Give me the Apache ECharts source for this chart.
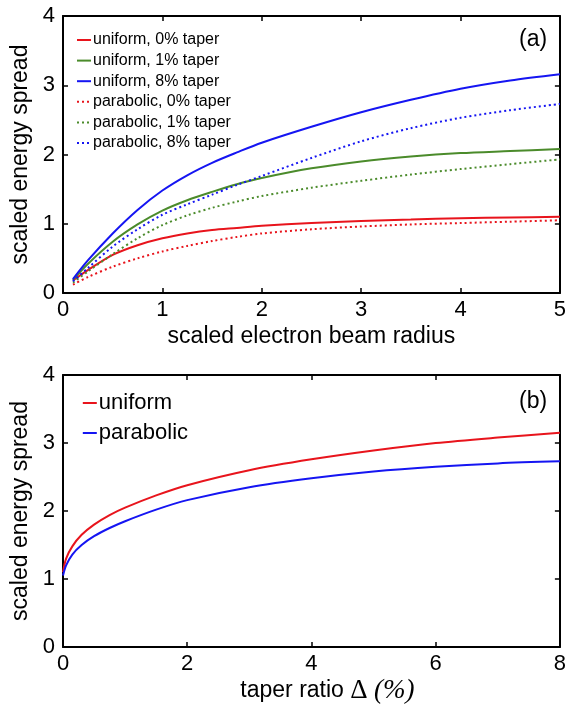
<!DOCTYPE html>
<html>
<head>
<meta charset="utf-8">
<script src="https://cdn.jsdelivr.net/npm/echarts@6/dist/echarts.min.js"></script>
<style>
html,body{margin:0;padding:0;background:#fff;}
#chart{width:569px;height:705px;}
</style>
</head>
<body>
<div id="chart"></div>
<script>
// ---- Panel (a) data ----
const radius = [0.1, 0.25, 0.5, 0.75, 1, 1.25, 1.5, 1.75, 2, 2.5, 3, 3.5, 4, 4.5, 5];
const uniform0   = [0.18, 0.33, 0.55, 0.69, 0.79, 0.86, 0.91, 0.94, 0.97, 1.01, 1.04, 1.06, 1.08, 1.09, 1.10];
const uniform1   = [0.19, 0.42, 0.74, 0.99, 1.19, 1.34, 1.46, 1.57, 1.66, 1.80, 1.90, 1.97, 2.02, 2.05, 2.08];
const uniform8   = [0.20, 0.47, 0.86, 1.20, 1.48, 1.70, 1.88, 2.03, 2.17, 2.40, 2.61, 2.79, 2.95, 3.07, 3.16];
const parabolic0 = [0.12, 0.23, 0.38, 0.50, 0.60, 0.68, 0.75, 0.81, 0.86, 0.92, 0.96, 0.99, 1.01, 1.03, 1.05];
const parabolic1 = [0.15, 0.31, 0.56, 0.79, 0.98, 1.12, 1.23, 1.32, 1.40, 1.52, 1.62, 1.71, 1.79, 1.86, 1.93];
const parabolic8 = [0.17, 0.36, 0.67, 0.92, 1.13, 1.28, 1.42, 1.56, 1.69, 1.95, 2.19, 2.38, 2.53, 2.64, 2.73];
const seriesNamesA = ['uniform, 0% taper', 'uniform, 1% taper', 'uniform, 8% taper',
                      'parabolic, 0% taper', 'parabolic, 1% taper', 'parabolic, 8% taper'];
const xTicksA = [0, 1, 2, 3, 4, 5];
const yTicks = [0, 1, 2, 3, 4];

// ---- Panel (b) data ----
const taper = [0, 0.05, 0.15, 0.3, 0.5, 0.75, 1, 1.5, 2, 3, 4, 5, 6, 7, 8];
const uniformB   = [1.10, 1.30, 1.48, 1.65, 1.80, 1.94, 2.05, 2.23, 2.38, 2.60, 2.76, 2.89, 3.00, 3.08, 3.15];
const parabolicB = [1.05, 1.20, 1.36, 1.50, 1.63, 1.75, 1.85, 2.02, 2.16, 2.35, 2.48, 2.58, 2.65, 2.70, 2.73];
const seriesNamesB = ['uniform', 'parabolic'];
const xTicksB = [0, 2, 4, 6, 8];

const RED = '#e8141c', GREEN = '#4b8b2b', BLUE = '#1515f2';
const FONT = 'Liberation Sans, Arial, Helvetica, sans-serif';
const DOT = [2, 3];

function pairs(xs, ys) { return xs.map((x, i) => [x, ys[i]]); }

const chart = echarts.init(document.getElementById('chart'), null, {renderer: 'canvas'});

const axisLine = {show: true, onZero: false, lineStyle: {color: '#000', width: 2}};
const axisTick = {show: true, inside: true, length: 5, lineStyle: {color: '#000', width: 1.5}};

function xAx(gridIndex, min, max, interval, position, showLabel, name, nameExtra) {
  return Object.assign({
    type: 'value', gridIndex, min, max, interval, position,
    axisLine, axisTick, splitLine: {show: false},
    axisLabel: {show: showLabel, color: '#000', fontFamily: FONT, fontSize: 22, margin: 6},
    name: name || '', nameLocation: 'middle', nameGap: 32,
    nameTextStyle: {color: '#000', fontFamily: FONT, fontSize: 23}
  }, nameExtra || {});
}
function yAx(gridIndex, position, showLabel, name) {
  return {
    type: 'value', gridIndex, min: 0, max: 4, interval: 1, position,
    axisLine, axisTick, splitLine: {show: false},
    axisLabel: {show: showLabel, color: '#000', fontFamily: FONT, fontSize: 22, margin: 8},
    name: name || '', nameLocation: 'middle', nameGap: 27,
    nameTextStyle: {color: '#000', fontFamily: FONT, fontSize: 23}
  };
}

function lineSeries(name, data, color, dotted, xi, yi) {
  return {
    name, type: 'line', data, xAxisIndex: xi, yAxisIndex: yi,
    smooth: 0.3, symbol: 'none', showSymbol: false,
    lineStyle: {color, width: 2, type: dotted ? DOT : 'solid'},
    itemStyle: {color}, z: 3, silent: true
  };
}

const legendItemStyle = {opacity: 0, color: 'rgba(0,0,0,0)', borderWidth: 0};

const option = {
  backgroundColor: '#fff',
  animation: false,
  grid: [
    {left: 63, top: 16, width: 498, height: 277},
    {left: 63, top: 375, width: 498, height: 274}
  ],
  xAxis: [
    xAx(0, 0, 5, 1, 'bottom', true, 'scaled electron beam radius'),
    xAx(0, 0, 5, 1, 'top', false, ''),
    xAx(1, 0, 8, 2, 'bottom', true, 'taper ratio {d|Δ} {p|(%)}', {
      nameGap: 30,
      nameTextStyle: {color: '#000', fontFamily: FONT, fontSize: 23, padding: [0, 0, 0, 32],
        rich: {d: {fontFamily: 'Liberation Serif, DejaVu Serif, serif', fontSize: 27, color: '#000'},
               p: {fontFamily: 'Liberation Serif, DejaVu Serif, serif', fontStyle: 'italic', fontSize: 27, color: '#000'}}}
    }),
    xAx(1, 0, 8, 2, 'top', false, '')
  ],
  yAxis: [
    yAx(0, 'left', true, 'scaled energy spread'),
    yAx(0, 'right', false, ''),
    yAx(1, 'left', true, 'scaled energy spread'),
    yAx(1, 'right', false, '')
  ],
  legend: [
    {
      data: seriesNamesA, orient: 'vertical', left: 76, top: 32,
      itemWidth: 14, itemHeight: 16, itemGap: 4.6, padding: 0,
      itemStyle: legendItemStyle,
      textStyle: {color: '#000', fontFamily: FONT, fontSize: 16, padding: [0, 0, 0, -3]},
      selectedMode: false
    },
    {
      data: seriesNamesB, orient: 'vertical', left: 81, top: 392,
      itemWidth: 14, itemHeight: 22, itemGap: 8, padding: 0,
      itemStyle: legendItemStyle,
      textStyle: {color: '#000', fontFamily: FONT, fontSize: 22, padding: [0, 0, 0, -3]},
      selectedMode: false
    }
  ],
  graphic: [
    {type: 'text', left: 519, top: 28, style: {text: '(a)', font: '23px ' + FONT, fill: '#000'}},
    {type: 'text', left: 519, top: 390, style: {text: '(b)', font: '23px ' + FONT, fill: '#000'}}
  ],
  series: [
    lineSeries(seriesNamesA[0], pairs(radius, uniform0), RED, false, 0, 0),
    lineSeries(seriesNamesA[1], pairs(radius, uniform1), GREEN, false, 0, 0),
    lineSeries(seriesNamesA[2], pairs(radius, uniform8), BLUE, false, 0, 0),
    lineSeries(seriesNamesA[3], pairs(radius, parabolic0), RED, true, 0, 0),
    lineSeries(seriesNamesA[4], pairs(radius, parabolic1), GREEN, true, 0, 0),
    lineSeries(seriesNamesA[5], pairs(radius, parabolic8), BLUE, true, 0, 0),
    lineSeries(seriesNamesB[0], pairs(taper, uniformB), RED, false, 2, 2),
    lineSeries(seriesNamesB[1], pairs(taper, parabolicB), BLUE, false, 2, 2)
  ]
};
chart.setOption(option);
</script>
</body>
</html>
